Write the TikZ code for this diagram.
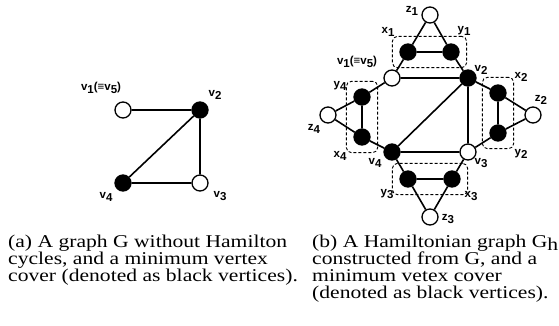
\documentclass[tikz,border=0pt]{standalone}
\usepackage{fontspec}
\setmainfont{Liberation Serif}
\newfontfamily\capfont[FakeStretch=1.2]{Liberation Serif}
\newfontfamily\labfont{Liberation Sans}
\usetikzlibrary{fit}
\newcommand{\vlab}[2]{#1\raisebox{-2.5pt}{#2}}

\begin{document}
\begin{tikzpicture}[x=1pt, y=-1pt,
    every node/.style={font=\labfont\bfseries\fontsize{11.5}{12}\selectfont},
    vtx/.style={circle, draw, line width=1.3pt, minimum size=16pt,
      inner sep=0pt, fill=white},
    cov/.style={vtx, fill=black},
    edge/.style={line width=1.6pt},
    grp/.style={draw, densely dashed, line width=0.9pt,
      rounded corners=5pt, inner sep=7pt},
    captxt/.style={anchor=base west, align=left, inner sep=0pt,
      font=\capfont\fontsize{18}{17}\selectfont}]
  \useasboundingbox (0,0) rectangle (559,325);

  % (a) graph G
  \node[vtx] (a1) at (123,110) {};
  \node[cov] (a2) at (200,110) {};
  \node[vtx] (a3) at (200,183) {};
  \node[cov] (a4) at (123,183) {};
  \draw[edge] (a1) -- (a2) -- (a3) -- (a4) -- (a2);

  \node (la1) at (101,88) {\vlab{v}{1}(≡\vlab{v}{5})};
  \node (la2) at (215,95) {\vlab{v}{2}};
  \node (la3) at (220,196) {\vlab{v}{3}};
  \node (la4) at (106,197) {\vlab{v}{4}};

  % (b) graph G_h
  \node[vtx] (v1) at (392,78) {};
  \node[cov] (v2) at (468,78) {};
  \node[vtx] (v3) at (468,152) {};
  \node[cov] (v4) at (392,152) {};

  \node[cov] (x1) at (408,52) {};
  \node[cov] (y1) at (451,52) {};
  \node[vtx] (z1) at (430,15) {};
  \node[cov] (x2) at (498,93) {};
  \node[cov] (y2) at (498,133) {};
  \node[vtx] (z2) at (533,115) {};
  \node[cov] (x3) at (452,179) {};
  \node[cov] (y3) at (408,179) {};
  \node[vtx] (z3) at (430,217) {};
  \node[cov] (x4) at (362,137) {};
  \node[cov] (y4) at (362,97) {};
  \node[vtx] (z4) at (328,115) {};

  \draw[edge] (v1) -- (v2) -- (v3) -- (v4) -- (v2);
  \draw[edge] (z1) -- (x1) -- (y1) -- (z1);
  \draw[edge] (z2) -- (x2) -- (y2) -- (z2);
  \draw[edge] (z3) -- (x3) -- (y3) -- (z3);
  \draw[edge] (z4) -- (x4) -- (y4) -- (z4);
  \draw[edge] (v1) -- (x1);
  \draw[edge] (v2) -- (y1);
  \draw[edge] (v2) -- (x2);
  \draw[edge] (v3) -- (y2);
  \draw[edge] (v3) -- (x3);
  \draw[edge] (v4) -- (y3);
  \draw[edge] (v4) -- (x4);
  \draw[edge] (v1) -- (y4);

  \node[grp, fit=(x1)(y1)] (g1) {};
  \node[grp, fit=(x2)(y2)] (g2) {};
  \node[grp, fit=(x3)(y3)] (g3) {};
  \node[grp, fit=(x4)(y4)] (g4) {};

  \node (lv1) at (357,62) {\vlab{v}{1}(≡\vlab{v}{5})};
  \node (lv2) at (481,70) {\vlab{v}{2}};
  \node (lv3) at (481,163) {\vlab{v}{3}};
  \node (lv4) at (375,163) {\vlab{v}{4}};
  \node (lx1) at (388,32) {\vlab{x}{1}};
  \node (ly1) at (464,31) {\vlab{y}{1}};
  \node (lz1) at (412,11) {\vlab{z}{1}};
  \node (lx2) at (521,77) {\vlab{x}{2}};
  \node (ly2) at (521,154) {\vlab{y}{2}};
  \node (lz2) at (541,100) {\vlab{z}{2}};
  \node (lx3) at (471,196) {\vlab{x}{3}};
  \node (ly3) at (387,194) {\vlab{y}{3}};
  \node (lz3) at (448,219) {\vlab{z}{3}};
  \node (lx4) at (340,156) {\vlab{x}{4}};
  \node (ly4) at (340,86) {\vlab{y}{4}};
  \node (lz4) at (314,129) {\vlab{z}{4}};

  % captions
  \node[captxt] (capa) at (8,281) {(a) A graph G without Hamilton\\
    cycles, and a minimum vertex\\
    cover (denoted as black vertices).};
  \node[captxt] (capb) at (312,298) {(b) A Hamiltonian graph G\raisebox{-3pt}{h}\\
    constructed from G, and a\\
    minimum vetex cover\\
    (denoted as black vertices).};
\end{tikzpicture}
\end{document}
